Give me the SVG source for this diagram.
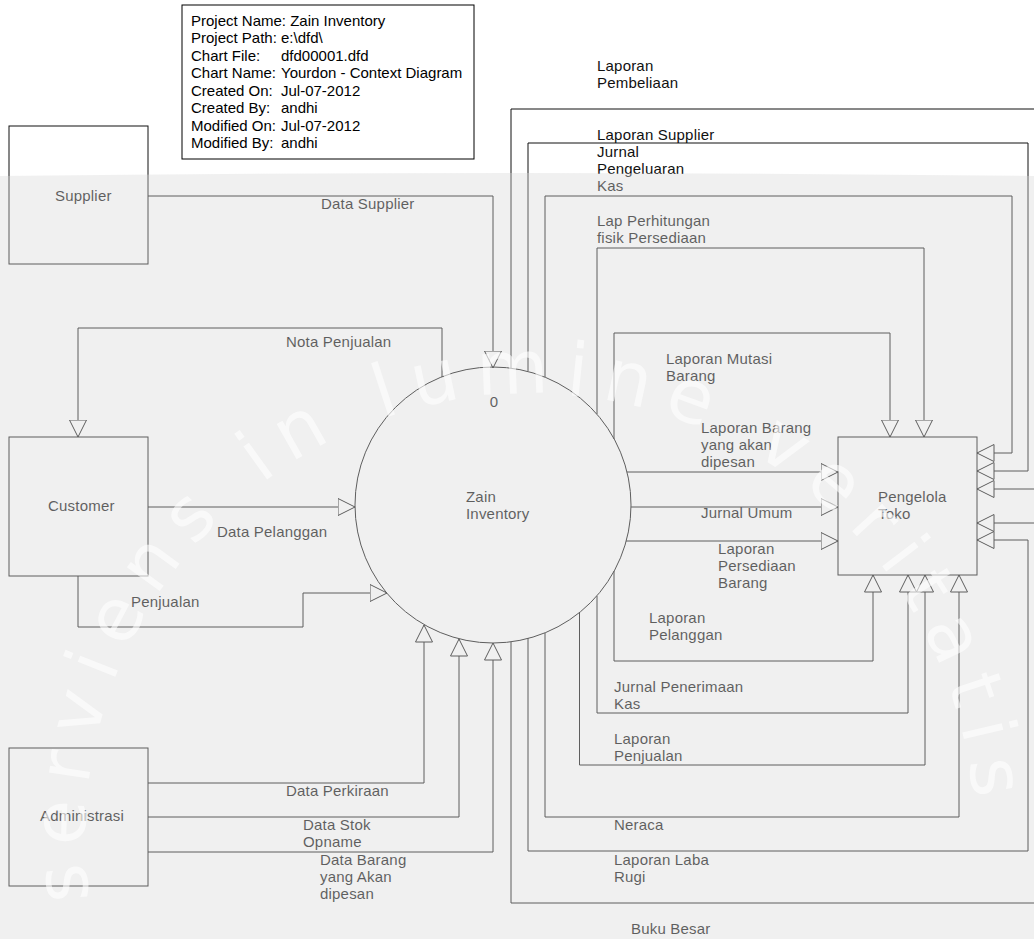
<svg xmlns="http://www.w3.org/2000/svg" width="1034" height="939" viewBox="0 0 1034 939">
<style>
.ln{fill:none;stroke:#111;stroke-width:1}
.nd{fill:none;stroke:#111;stroke-width:1}
.t{font-family:"Liberation Sans",Arial,sans-serif;font-size:15px;fill:#111;letter-spacing:0.2px}
.info{font-family:"Liberation Sans",Arial,sans-serif;font-size:15px;fill:#000}
.wm{font-family:"DejaVu Sans","Open Sans",sans-serif;font-size:74px;fill:#fff;opacity:0.6}
</style>
<defs>
<marker id="ar" markerUnits="userSpaceOnUse" viewBox="0 0 18 18" refX="17.5" refY="9" markerWidth="18" markerHeight="18" orient="auto">
<path d="M0.5,0.5 L17.5,9 L0.5,17.5 Z" fill="#fff" stroke="#111" stroke-width="1"/>
</marker>
<path id="wmArc" d="M89.3,899.9 A445,445 0 1 1 974.4,814.7"/>
</defs>
<rect width="1034" height="939" fill="#fff"/>

<g id="info">
<rect x="182" y="5" width="292" height="154" fill="#fff" stroke="#000" stroke-width="1"/>
<text class="info" x="191" y="25.5">Project Name: Zain Inventory</text>
<text class="info" x="191" y="43">Project Path:</text><text class="info" x="281" y="43">e:\dfd\</text>
<text class="info" x="191" y="60.5">Chart File:</text><text class="info" x="281" y="60.5">dfd00001.dfd</text>
<text class="info" x="191" y="78">Chart Name:</text><text class="info" x="281" y="78">Yourdon - Context Diagram</text>
<text class="info" x="191" y="95.5">Created On:</text><text class="info" x="281" y="95.5">Jul-07-2012</text>
<text class="info" x="191" y="113">Created By:</text><text class="info" x="281" y="113">andhi</text>
<text class="info" x="191" y="130.5">Modified On:</text><text class="info" x="281" y="130.5">Jul-07-2012</text>
<text class="info" x="191" y="148">Modified By:</text><text class="info" x="281" y="148">andhi</text>
</g>

<g id="connectors">
<path class="ln" d="M148,196 H493 V368" marker-end="url(#ar)"/>
<path class="ln" d="M442,377 V328 H78 V437" marker-end="url(#ar)"/>
<path class="ln" d="M148,507 H355" marker-end="url(#ar)"/>
<path class="ln" d="M78,576 V627 H303 V593 H387" marker-end="url(#ar)"/>
<path class="ln" d="M148,783 H424 V625" marker-end="url(#ar)"/>
<path class="ln" d="M148,817 H459 V639" marker-end="url(#ar)"/>
<path class="ln" d="M148,852 H493 V643" marker-end="url(#ar)"/>
<path class="ln" d="M511,368 V109 H1045 V489 H977" marker-end="url(#ar)"/>
<path class="ln" d="M511,642 V903 H1045 V523 H977" marker-end="url(#ar)"/>
<path class="ln" d="M528,371 V143 H1028 V471 H977" marker-end="url(#ar)"/>
<path class="ln" d="M545,377 V196 H1012 V453 H977" marker-end="url(#ar)"/>
<path class="ln" d="M597,414 V248 H924 V437" marker-end="url(#ar)"/>
<path class="ln" d="M614,439 V333 H890 V437" marker-end="url(#ar)"/>
<path class="ln" d="M627,472 H838" marker-end="url(#ar)"/>
<path class="ln" d="M631,507 H838" marker-end="url(#ar)"/>
<path class="ln" d="M626,541 H838" marker-end="url(#ar)"/>
<path class="ln" d="M614,571 V661 H873 V575" marker-end="url(#ar)"/>
<path class="ln" d="M597,596 V713 H908 V575" marker-end="url(#ar)"/>
<path class="ln" d="M579.5,612 V765 H925 V575" marker-end="url(#ar)"/>
<path class="ln" d="M545,633 V817 H959 V575" marker-end="url(#ar)"/>
<path class="ln" d="M528,638 V851 H1028 V540 H977" marker-end="url(#ar)"/>
</g>

<g id="supplier">
<rect class="nd" x="9" y="126" width="139" height="138"/>
<text class="t" x="55" y="201">Supplier</text>
</g>
<g id="customer">
<rect class="nd" x="9" y="437" width="139" height="139"/>
<text class="t" x="48" y="511">Customer</text>
</g>
<g id="administrasi">
<rect class="nd" x="9" y="748" width="139" height="138"/>
<text class="t" x="40" y="821">Administrasi</text>
</g>
<g id="process">
<circle class="nd" cx="493" cy="505" r="138"/>
<text class="t" x="494" y="407" text-anchor="middle">0</text>
<text class="t" x="466" y="502">Zain</text>
<text class="t" x="466" y="519">Inventory</text>
</g>
<g id="pengelola">
<rect class="nd" x="838" y="437" width="139" height="138"/>
<text class="t" x="878" y="502">Pengelola</text>
<text class="t" x="878" y="519">Toko</text>
</g>

<g id="labels">
<text class="t" x="321" y="209">Data Supplier</text>
<text class="t" x="286" y="347">Nota Penjualan</text>
<text class="t" x="217" y="537">Data Pelanggan</text>
<text class="t" x="131" y="607">Penjualan</text>
<text class="t" x="286" y="796">Data Perkiraan</text>
<text class="t" x="303" y="830">Data Stok</text>
<text class="t" x="303" y="847">Opname</text>
<text class="t" x="320" y="865">Data Barang</text>
<text class="t" x="320" y="882">yang Akan</text>
<text class="t" x="320" y="899">dipesan</text>
<text class="t" x="597" y="71">Laporan</text>
<text class="t" x="597" y="88">Pembeliaan</text>
<text class="t" x="597" y="140">Laporan Supplier</text>
<text class="t" x="597" y="157">Jurnal</text>
<text class="t" x="597" y="174">Pengeluaran</text>
<text class="t" x="597" y="191">Kas</text>
<text class="t" x="597" y="226">Lap Perhitungan</text>
<text class="t" x="597" y="243">fisik Persediaan</text>
<text class="t" x="666" y="364">Laporan Mutasi</text>
<text class="t" x="666" y="381">Barang</text>
<text class="t" x="701" y="433">Laporan Barang</text>
<text class="t" x="701" y="450">yang akan</text>
<text class="t" x="701" y="467">dipesan</text>
<text class="t" x="701" y="518">Jurnal Umum</text>
<text class="t" x="718" y="554">Laporan</text>
<text class="t" x="718" y="571">Persediaan</text>
<text class="t" x="718" y="588">Barang</text>
<text class="t" x="649" y="623">Laporan</text>
<text class="t" x="649" y="640">Pelanggan</text>
<text class="t" x="614" y="692">Jurnal Penerimaan</text>
<text class="t" x="614" y="709">Kas</text>
<text class="t" x="614" y="744">Laporan</text>
<text class="t" x="614" y="761">Penjualan</text>
<text class="t" x="614" y="830">Neraca</text>
<text class="t" x="614" y="865">Laporan Laba</text>
<text class="t" x="614" y="882">Rugi</text>
<text class="t" x="631" y="934">Buku Besar</text>
</g>

<g id="watermark">
<path d="M0,176 Q517,170 1034,176 V939 H0 Z" fill="#d9d9d9" opacity="0.39"/>
<text class="wm"><textPath href="#wmArc" textLength="1420" lengthAdjust="spacing">serviens in lumine veritatis</textPath></text>
</g>
</svg>
